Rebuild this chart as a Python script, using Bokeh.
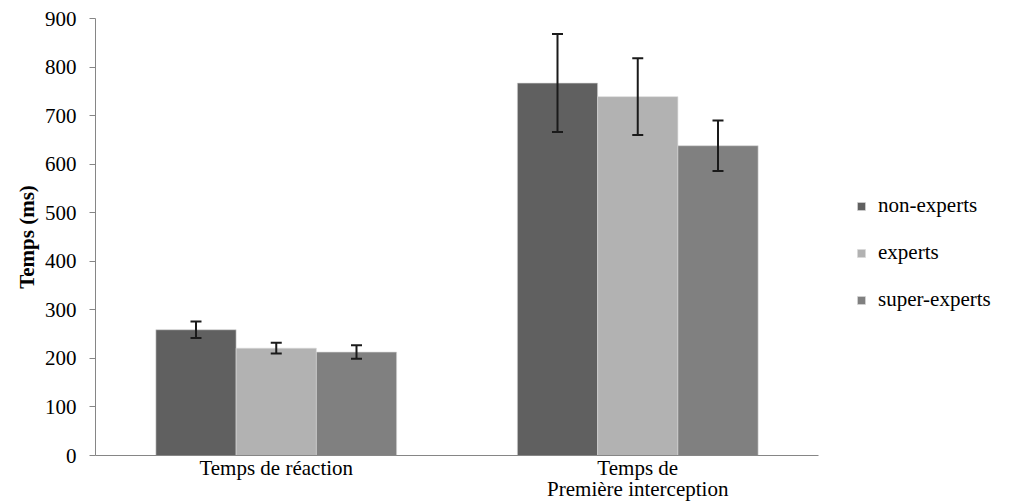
from bokeh.plotting import figure
from bokeh.models import FactorRange, ColumnDataSource, Whisker, TeeHead, Legend, LegendItem, Range1d
from bokeh.transform import dodge
from bokeh.embed import file_html
from bokeh.resources import INLINE

categories = ["Temps de réaction", "Temps de\nPremière interception"]
groups = ["non-experts", "experts", "super-experts"]
non_experts = [259, 767]
experts = [221, 739]
super_experts = [213, 638]
err_non = [17, 101]
err_exp = [11, 79]
err_sup = [14, 52]
colors = ["#606060", "#b2b2b2", "#808080"]
yticks = [0, 100, 200, 300, 400, 500, 600, 700, 800, 900]

FONT = "Times New Roman"

p = figure(x_range=FactorRange(*categories), y_range=Range1d(0, 900),
           frame_width=723, frame_height=437, output_backend="svg", toolbar_location=None,
           min_border_left=95, min_border_right=5, min_border_top=18, min_border_bottom=46)
p.outline_line_color = None
p.grid.visible = False
p.background_fill_color = "white"
p.border_fill_color = "white"

vals = [non_experts, experts, super_experts]
errs = [err_non, err_exp, err_sup]
offsets = [-0.222, 0.0, 0.222]
renderers = []
for g, v, e, c, off in zip(groups, vals, errs, colors, offsets):
    src = ColumnDataSource(dict(x=categories, top=v,
                                upper=[a + b for a, b in zip(v, e)],
                                lower=[a - b for a, b in zip(v, e)]))
    r = p.vbar(x=dodge("x", off, range=p.x_range), top="top", width=0.222, source=src,
               fill_color=c, line_color="#d8d8d8", line_width=0.6)
    renderers.append(r)
    w = Whisker(base=dodge("x", off, range=p.x_range), upper="upper", lower="lower", source=src,
                line_color="#1a1a1a", line_width=2, level="overlay",
                upper_head=TeeHead(size=11, line_color="#1a1a1a", line_width=2),
                lower_head=TeeHead(size=11, line_color="#1a1a1a", line_width=2))
    p.add_layout(w)

p.yaxis.ticker = yticks
p.yaxis.axis_label = "Temps (ms)"
p.yaxis.axis_label_text_font = FONT
p.yaxis.axis_label_text_font_style = "bold"
p.yaxis.axis_label_text_font_size = "21px"
p.yaxis.axis_label_text_color = "#000000"
p.yaxis.axis_label_standoff = 3
p.yaxis.major_label_text_font = FONT
p.yaxis.major_label_text_font_size = "21px"
p.yaxis.major_label_text_color = "#000000"
p.yaxis.axis_line_color = "#868686"
p.yaxis.major_tick_line_color = "#868686"
p.yaxis.major_tick_out = 6
p.yaxis.major_tick_in = 0
p.yaxis.minor_tick_line_color = None
p.yaxis.major_label_standoff = 13

p.xaxis.axis_line_color = "#868686"
p.xaxis.major_tick_line_color = None
p.xaxis.minor_tick_line_color = None
p.xaxis.major_label_text_font = FONT
p.xaxis.major_label_text_font_size = "21px"
p.xaxis.major_label_text_color = "#000000"
p.xaxis.major_label_text_line_height = 0.9
p.xaxis.major_label_standoff = -6

legend = Legend(items=[LegendItem(label=g, renderers=[r]) for g, r in zip(groups, renderers)],
                location=(38, 143), orientation="vertical")
legend.label_text_font = FONT
legend.label_text_font_size = "21px"
legend.label_text_color = "#000000"
legend.glyph_width = 10
legend.glyph_height = 10
legend.label_height = 20
legend.spacing = 22
legend.border_line_color = None
legend.background_fill_alpha = 0
legend.padding = 0
legend.margin = 0
legend.label_standoff = 12
p.add_layout(legend, "right")

open("out.html", "w").write(file_html(p, INLINE))
